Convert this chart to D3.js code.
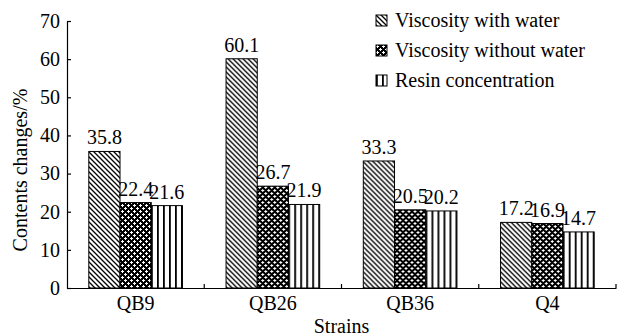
<!DOCTYPE html>
<html>
<head>
<meta charset="utf-8">
<script src="https://cdn.jsdelivr.net/npm/d3@7"></script>
<style>
  html, body { margin: 0; padding: 0; background: #fff; }
  svg { display: block; }
</style>
</head>
<body>
<svg id="chart" width="625" height="336"></svg>
<script>
const categories = ["QB9", "QB26", "QB36", "Q4"];
const seriesNames = ["Viscosity with water", "Viscosity without water", "Resin concentration"];
const viscosityWithWater = [35.8, 60.1, 33.3, 17.2];
const viscosityWithoutWater = [22.4, 26.7, 20.5, 16.9];
const resinConcentration = [21.6, 21.9, 20.2, 14.7];
const yTicks = [0, 10, 20, 30, 40, 50, 60, 70];
const yLabel = "Contents changes/%";
const xLabel = "Strains";

const seriesValues = [viscosityWithWater, viscosityWithoutWater, resinConcentration];
const patternIds = ["pDiag", "pCheck", "pVert"];

const svg = d3.select("#chart");
const FS = 20;
const FF = '"Liberation Serif"';

// Patterns
const defs = svg.append("defs");
const p1 = defs.append("pattern").attr("id", "pDiag").attr("patternUnits", "userSpaceOnUse")
  .attr("width", 5).attr("height", 5);
p1.append("rect").attr("width", 5).attr("height", 5).attr("fill", "#fff");
p1.append("path").attr("d", "M0,0L5,5M-1,4L1,6M4,-1L6,1")
  .attr("stroke", "#000").attr("stroke-width", 1.3);

const p2 = defs.append("pattern").attr("id", "pCheck").attr("patternUnits", "userSpaceOnUse")
  .attr("width", 6).attr("height", 6);
p2.append("rect").attr("width", 6).attr("height", 6).attr("fill", "#000");
[[0,1,3,1],[1,0,1,3],[3,4,3,1],[4,3,1,3]].forEach(r => {
  p2.append("rect").attr("x", r[0]).attr("y", r[1]).attr("width", r[2]).attr("height", r[3]).attr("fill", "#fff");
});

const p3 = defs.append("pattern").attr("id", "pVert").attr("patternUnits", "userSpaceOnUse")
  .attr("width", 6).attr("height", 6);
p3.append("rect").attr("width", 6).attr("height", 6).attr("fill", "#fff");
p3.append("rect").attr("x", 0).attr("y", 0).attr("width", 1.8).attr("height", 6).attr("fill", "#000");

// Scales
const x0 = d3.scaleBand().domain(categories).range([67, 616]).paddingInner(0).paddingOuter(0);
const sidePad = 21.8;
const x1 = d3.scaleBand().domain(d3.range(seriesNames.length)).range([sidePad, x0.bandwidth() - sidePad]).padding(0);
const y = d3.scaleLinear().domain([0, 70]).range([288, 21]);

// Bars
const groups = svg.append("g").selectAll("g").data(categories).join("g")
  .attr("transform", d => `translate(${x0(d)},0)`);
groups.each(function(cat, ci) {
  const g = d3.select(this);
  seriesValues.forEach((vals, si) => {
    const v = vals[ci];
    g.append("rect")
      .attr("x", x1(si)).attr("y", y(v))
      .attr("width", x1.bandwidth()).attr("height", y(0) - y(v))
      .attr("fill", `url(#${patternIds[si]})`)
      .attr("stroke", "#000").attr("stroke-width", 1);
    g.append("text")
      .attr("x", x1(si) + x1.bandwidth() / 2).attr("y", y(v) - 7)
      .attr("text-anchor", "middle")
      .style("font-family", FF).style("font-size", FS + "px").style("fill", "#000")
      .text(v.toFixed(1));
  });
});

// Y axis
const yAxis = svg.append("g").attr("transform", "translate(67,0)")
  .call(d3.axisLeft(y).tickValues(yTicks).tickSizeInner(-4).tickSizeOuter(0).tickPadding(7));
yAxis.selectAll("text").style("font-family", FF).style("font-size", FS + "px").style("fill", "#000");
yAxis.selectAll("line,path").attr("stroke", "#000").attr("stroke-width", 1.2);

// X axis
const xAxis = svg.append("g").attr("transform", "translate(0,288)")
  .call(d3.axisBottom(x0).tickSize(0).tickPadding(8));
xAxis.selectAll("text").style("font-family", FF).style("font-size", FS + "px").style("fill", "#000");
xAxis.select("path").attr("stroke", "#000").attr("stroke-width", 1.2);
xAxis.selectAll(".bnd").data(categories).join("line").attr("class", "bnd")
  .attr("x1", d => x0(d) + x0.bandwidth()).attr("x2", d => x0(d) + x0.bandwidth())
  .attr("y1", 0).attr("y2", -4).attr("stroke", "#000").attr("stroke-width", 1.2);

// Axis titles
svg.append("text").attr("x", 341.5).attr("y", 333).attr("text-anchor", "middle")
  .style("font-family", FF).style("font-size", FS + "px").style("fill", "#000").text(xLabel);
svg.append("text").attr("transform", "translate(27,170) rotate(-90)")
  .attr("text-anchor", "middle")
  .style("font-family", FF).style("font-size", FS + "px").style("fill", "#000").text(yLabel);

// Legend
const legend = svg.append("g").attr("transform", "translate(376,15)");
seriesNames.forEach((name, i) => {
  legend.append("rect").attr("x", 0).attr("y", i * 30).attr("width", 11).attr("height", 11)
    .attr("fill", `url(#${patternIds[i]})`).attr("stroke", "#000").attr("stroke-width", 1);
  legend.append("text").attr("x", 19).attr("y", i * 30 + 12)
    .style("font-family", FF).style("font-size", FS + "px").style("fill", "#000").text(name);
});
</script>
</body>
</html>
